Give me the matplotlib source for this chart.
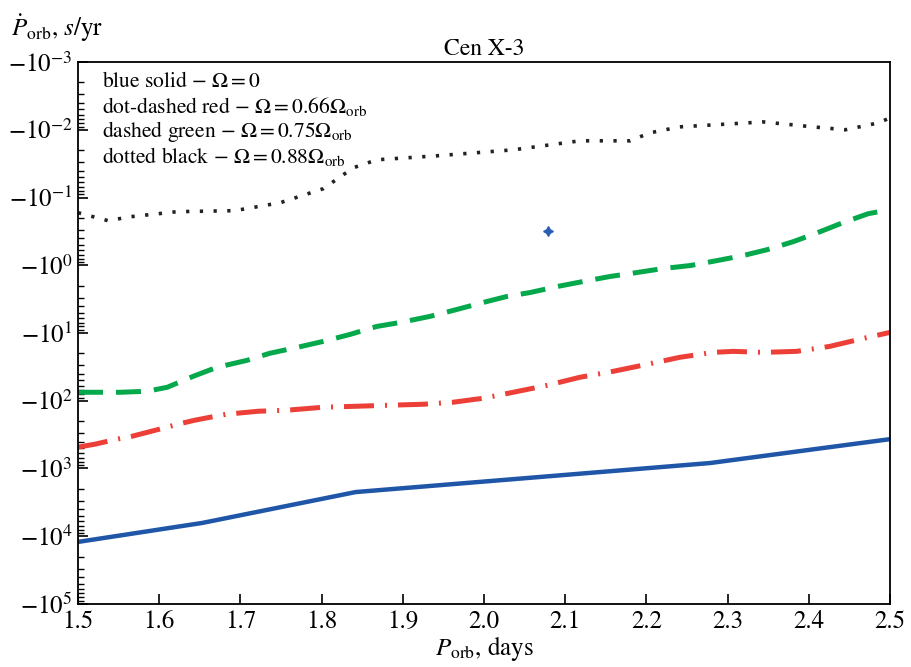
import matplotlib
matplotlib.use("Agg")
import matplotlib.pyplot as plt
import numpy as np
from matplotlib.ticker import FixedLocator, LogLocator, NullFormatter

plt.rcParams['font.family'] = ['STIXGeneral', 'DejaVu Serif']
plt.rcParams['mathtext.fontset'] = 'stix'

# |dP/dt| values (the axis shows them as negative)
p_blue = [1.5, 1.653, 1.842, 2.278, 2.5]
lg_blue = [4.084, 3.804, 3.348, 2.920, 2.567]

p_red = [1.5, 1.521, 1.548, 1.567, 1.586, 1.605, 1.623, 1.644, 1.663, 1.683,
         1.722, 1.757, 1.802, 1.844, 1.884, 1.925, 1.962, 1.999, 2.036, 2.078,
         2.118, 2.159, 2.201, 2.241, 2.282, 2.307, 2.344, 2.385, 2.426, 2.467, 2.5]
lg_red = [2.685, 2.641, 2.567, 2.523, 2.464, 2.405, 2.346, 2.287, 2.243, 2.199,
          2.155, 2.140, 2.096, 2.081, 2.066, 2.052, 2.022, 1.963, 1.875, 1.772,
          1.654, 1.566, 1.462, 1.359, 1.286, 1.271, 1.286, 1.271, 1.197, 1.080, 0.991]

p_green = [1.5, 1.552, 1.585, 1.610, 1.642, 1.671, 1.708, 1.736, 1.770, 1.802,
           1.835, 1.868, 1.897, 1.933, 1.962, 1.999, 2.028, 2.057, 2.090, 2.122,
           2.155, 2.188, 2.220, 2.254, 2.287, 2.319, 2.349, 2.381, 2.411, 2.442,
           2.473, 2.5]
lg_green = [1.875, 1.875, 1.860, 1.801, 1.639, 1.507, 1.404, 1.300, 1.212, 1.124,
            1.021, 0.903, 0.844, 0.756, 0.667, 0.549, 0.461, 0.402, 0.314, 0.240,
            0.166, 0.108, 0.049, 0.004, -0.069, -0.143, -0.231, -0.349, -0.482, -0.629,
            -0.761, -0.820]

p_black = [1.5, 1.537, 1.565, 1.622, 1.693, 1.749, 1.802, 1.839, 1.868, 1.942,
           2.036, 2.118, 2.180, 2.204, 2.241, 2.344, 2.405, 2.445, 2.485, 2.5]
lg_black = [-0.776, -0.658, -0.717, -0.791, -0.806, -0.923, -1.130, -1.439, -1.557, -1.616,
            -1.704, -1.837, -1.837, -1.954, -2.043, -2.116, -2.043, -2.0, -2.10, -2.175]

# single observed point
p_obs = [2.079]
lg_obs = [-0.511]

x_ticks = [1.5, 1.6, 1.7, 1.8, 1.9, 2.0, 2.1, 2.2, 2.3, 2.4, 2.5]
y_exps = [-3, -2, -1, 0, 1, 2, 3, 4, 5]

legend_lines = [r"blue solid $-$ $\Omega = 0$",
                r"dot-dashed red $-$ $\Omega = 0.66\Omega_{\rm orb}$",
                r"dashed green $-$ $\Omega = 0.75\Omega_{\rm orb}$",
                r"dotted black $-$ $\Omega = 0.88\Omega_{\rm orb}$"]

fig = plt.figure(figsize=(9.11, 6.67), dpi=100)
ax = fig.add_axes([0.0856, 0.0945, 0.8914, 0.8125])

ax.plot(p_blue, 10 ** np.array(lg_blue), color='#1f56a8', lw=3.2, solid_capstyle='butt')
ax.plot(p_red, 10 ** np.array(lg_red), color='#ec3f38', lw=3.6,
        dashes=(6.0, 2.2, 0.4, 2.2))
ax.plot(p_green, 10 ** np.array(lg_green), color='#06a84c', lw=3.6, dashes=(5, 2.6))
ax.plot(p_black, 10 ** np.array(lg_black), color='#222222', lw=2.6, dashes=(0.9, 2.9))
ax.plot(p_obs, 10 ** np.array(lg_obs), marker=(4, 1, 0), ms=7, color='#2a5fb5', ls='none')

ax.set_yscale('log')
ax.set_ylim(1e5, 1e-3)
ax.set_xlim(1.5, 2.5)

ax.yaxis.set_major_locator(FixedLocator([10.0 ** e for e in y_exps]))
ax.set_yticklabels([r"$-10^{%d}$" % e for e in y_exps])
ax.yaxis.set_minor_locator(LogLocator(base=10, subs=np.arange(2, 10), numticks=20))
ax.yaxis.set_minor_formatter(NullFormatter())
ax.set_xticks(x_ticks)
ax.set_xticklabels(["%.1f" % v for v in x_ticks])

ax.tick_params(axis='both', which='major', direction='in', length=7, width=1.2,
               labelsize=18, top=False, right=False)
ax.tick_params(axis='y', which='minor', direction='in', length=4, width=1.0, right=False)
ax.tick_params(axis='x', pad=4)
ax.tick_params(axis='y', pad=4)
for s in ax.spines.values():
    s.set_linewidth(1.3)

ax.set_title("Cen X-3", fontsize=17, pad=5)
ax.set_xlabel(r"$P_{\rm orb}$, days", fontsize=18, labelpad=0)
fig.text(0.012, 0.958, r"$\dot{P}_{\rm orb}$, $s$/yr", fontsize=18, ha='left', va='center')

for i, line in enumerate(legend_lines):
    ax.text(0.03, 0.963 - i * 0.0455, line, transform=ax.transAxes, fontsize=15.5,
            ha='left', va='center')

fig.savefig("out.png", dpi=100)
